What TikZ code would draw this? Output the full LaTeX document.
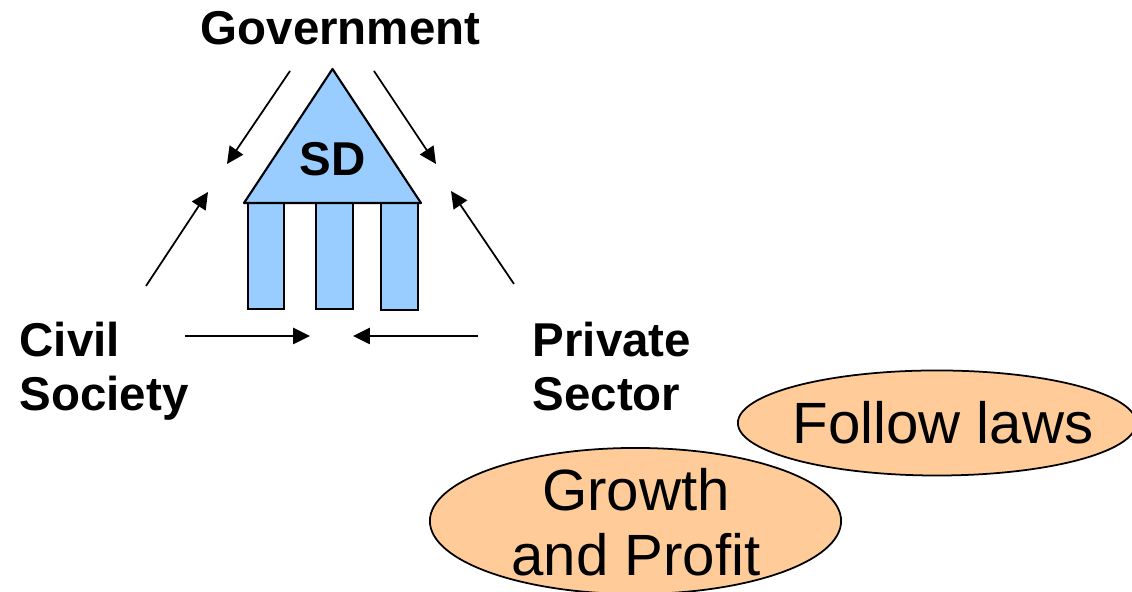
\documentclass[tikz,border=0pt]{standalone}
\usepackage{fontspec}
\setmainfont{Liberation Sans}
\usetikzlibrary{positioning, arrows.meta, shapes}
\definecolor{sdblue}{RGB}{153,204,255}
\definecolor{goalorange}{RGB}{255,204,153}
\tikzset{
    actor/.style={font=\fontsize{13.5}{15.4}\selectfont\bfseries, align=left, inner sep=0pt},
    pillar/.style={fill=sdblue, draw=black, line width=0.5pt},
    goal/.style={ellipse, fill=goalorange, draw=black, line width=0.5pt, inner sep=0pt},
    goaltext/.style={align=center, inner sep=0pt, font=\fontsize{16.55}{18.6}\selectfont},
    flow/.style={-{Triangle[length=4.8pt, width=4.6pt]}, line width=0.5pt}
}

\begin{document}
\begin{tikzpicture}[x=0.01cm, y=-0.01cm]
    \clip (0,0) rectangle (1132,592);

    % Temple
    \draw[pillar] (248,203) rectangle (284,309);
    \draw[pillar] (316,203) rectangle (353,309);
    \draw[pillar] (381,203) rectangle (418,310);
    \draw[fill=sdblue, draw=black, line width=0.6pt, line join=round]
        (332.5,69) -- (421,203) -- (244,203) -- cycle;
    \node[actor] (sd) at (332.5,159) {SD};

    % Actors
    \node[actor] (gov) at (340.5,28) {Government};
    \node[actor, anchor=north west] (civil) at (19,321) {Civil\\Society};
    \node[actor, anchor=north west] (private) at (532,321) {Private\\Sector};

    % Arrow ends
    \coordinate (govleft) at (290,71);
    \coordinate (govlefttip) at (227,164);
    \coordinate (govright) at (374,71);
    \coordinate (govrighttip) at (436,164);
    \coordinate (civilup) at (146,286);
    \coordinate (civiluptip) at (208,192);
    \coordinate (privateup) at (514,284);
    \coordinate (privateuptip) at (451,191);
    \coordinate (civilin) at (185,336);
    \coordinate (civilintip) at (310,336);
    \coordinate (privatein) at (478,336);
    \coordinate (privateintip) at (353,336);

    \draw[flow] (govleft) -- (govlefttip);
    \draw[flow] (govright) -- (govrighttip);
    \draw[flow] (civilup) -- (civiluptip);
    \draw[flow] (privateup) -- (privateuptip);
    \draw[flow] (civilin) -- (civilintip);
    \draw[flow] (privatein) -- (privateintip);

    % Goals
    \node[goal, minimum width=3.98cm, minimum height=1.05cm] (laws) at (937,423) {};
    \node[goaltext] (lawstext) at (943,423) {Follow laws};
    \node[goal, minimum width=4.11cm, minimum height=1.46cm] (growth) at (635.5,521) {};
    \node[goaltext] (growthtext) at (636,522) {Growth\\and Profit};
\end{tikzpicture}
\end{document}
